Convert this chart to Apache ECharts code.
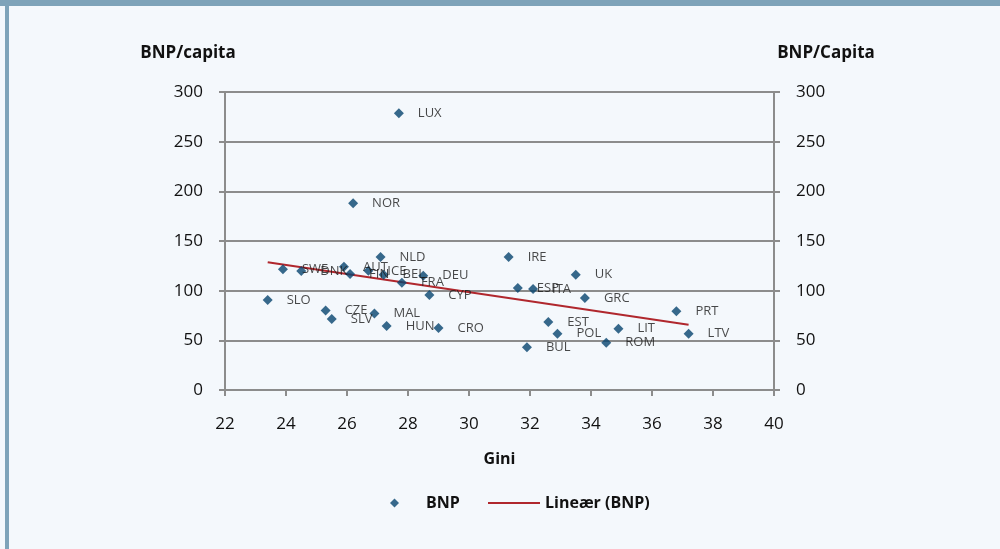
<!DOCTYPE html>
<html>
<head>
<meta charset="utf-8">
<script src="https://cdn.jsdelivr.net/npm/echarts@6/dist/echarts.min.js"></script>
<style>
html,body{margin:0;padding:0;background:#f4f8fc;}
#c{width:1000px;height:549px;}
</style>
</head>
<body>
<div id="c"></div>
<script>
// ---- data ----
const countries = ['SLO','SWE','DNK','AUT','FIN','ICE','NLD','BEL','FRA','DEU','CYP','CZE','SLV','MAL','HUN','CRO','LUX','NOR','IRE','UK','ESP','ITA','GRC','PRT','LTV','EST','POL','LIT','ROM','BUL'];
const gini = [23.4,23.9,24.5,25.9,26.1,26.7,27.1,27.2,27.8,28.5,28.7,25.3,25.5,26.9,27.3,29.0,27.7,26.2,31.3,33.5,31.6,32.1,33.8,36.8,37.2,32.6,32.9,34.9,34.5,31.9];
const bnp = [90.6,121.5,119.8,124,116.8,120,134,116,108,115,95.6,80,71.5,77,64.5,62.5,278.5,188,134,116,102.7,101.7,92.6,79.2,56.7,68.5,56.7,61.7,47.6,43];
const trendGini = [23.4, 37.2];
const trendBnp = [128.6, 65.7];
const xMin = 22, xMax = 40, xStep = 2;
const yMin = 0, yMax = 300, yStep = 50;

const pts = countries.map((n,i)=>({name:n, value:[gini[i], bnp[i]]}));
const trend = trendGini.map((g,i)=>[g, trendBnp[i]]);

const FONT = "'Open Sans', 'Noto Sans', sans-serif";
const gridColor = '#8c8c8c';
const txt = '#111';

const chart = echarts.init(document.getElementById('c'), null, {renderer:'canvas'});
chart.setOption({
  backgroundColor: '#f4f8fc',
  animation: false,
  textStyle: {fontFamily: FONT},
  graphic: [
    {type:'rect', shape:{x:0,y:0,width:1000,height:6}, style:{fill:'#7ea3b9'}, z:100},
    {type:'rect', shape:{x:5,y:0,width:4,height:549}, style:{fill:'#7ea3b9'}, z:100}
  ],
  grid: {left:225, right:226, top:92, bottom:159, containLabel:false},
  legend: [
    {
      left: 385, top: 490,
      itemWidth: 9, itemHeight: 9,
      textStyle: {fontFamily: FONT, fontWeight:'bold', fontSize:16, color:txt, padding:[0,0,0,22]},
      data: [{name:'BNP', icon:'diamond'}]
    },
    {
      left: 483, top: 490,
      itemWidth: 52, itemHeight: 2,
      textStyle: {fontFamily: FONT, fontWeight:'bold', fontSize:16, color:txt},
      data: [{name:'Lineær (BNP)', icon:'rect'}]
    }
  ],
  xAxis: {
    type:'value', min:xMin, max:xMax, interval:xStep,
    name:'Gini', nameLocation:'middle', nameGap:61,
    nameTextStyle:{fontFamily:FONT, fontWeight:'bold', fontSize:16, color:txt},
    axisLine:{show:true, onZero:false, lineStyle:{color:gridColor, width:2}},
    axisTick:{show:true, length:6, lineStyle:{color:gridColor, width:2}},
    axisLabel:{fontFamily:FONT, fontSize:17, color:txt, margin:26},
    splitLine:{show:false}
  },
  yAxis: [
    {
      type:'value', min:yMin, max:yMax, interval:yStep, position:'left',
      name:'BNP/capita', nameLocation:'end', nameGap:30,
      nameTextStyle:{fontFamily:FONT, fontWeight:'bold', fontSize:17, color:txt, padding:[0,74,0,0]},
      axisLine:{show:true, lineStyle:{color:gridColor, width:2}},
      axisTick:{show:true, length:6, lineStyle:{color:gridColor, width:2}},
      axisLabel:{fontFamily:FONT, fontSize:17, color:txt, margin:22},
      splitLine:{show:true, lineStyle:{color:gridColor, width:2}}
    },
    {
      type:'value', min:yMin, max:yMax, interval:yStep, position:'right',
      name:'BNP/Capita', nameLocation:'end', nameGap:30,
      nameTextStyle:{fontFamily:FONT, fontWeight:'bold', fontSize:17, color:txt, padding:[0,0,0,104]},
      axisLine:{show:true, lineStyle:{color:gridColor, width:2}},
      axisTick:{show:true, length:6, lineStyle:{color:gridColor, width:2}},
      axisLabel:{fontFamily:FONT, fontSize:17, color:txt, margin:22},
      splitLine:{show:false}
    }
  ],
  series: [
    {
      name:'BNP', type:'scatter', symbol:'diamond', symbolSize:10,
      itemStyle:{color:'#06446e'},
      data: pts,
      label:{show:true, position:'right', distance:14, formatter:'{b}',
        fontFamily:FONT, fontSize:13, color:'#1a1a1a'},
      z:3
    },
    {
      name:'Lineær (BNP)', type:'line', symbol:'none',
      lineStyle:{color:'#b0272d', width:2},
      itemStyle:{color:'#b0272d'},
      data: trend, z:2
    }
  ]
});
</script>
</body>
</html>
